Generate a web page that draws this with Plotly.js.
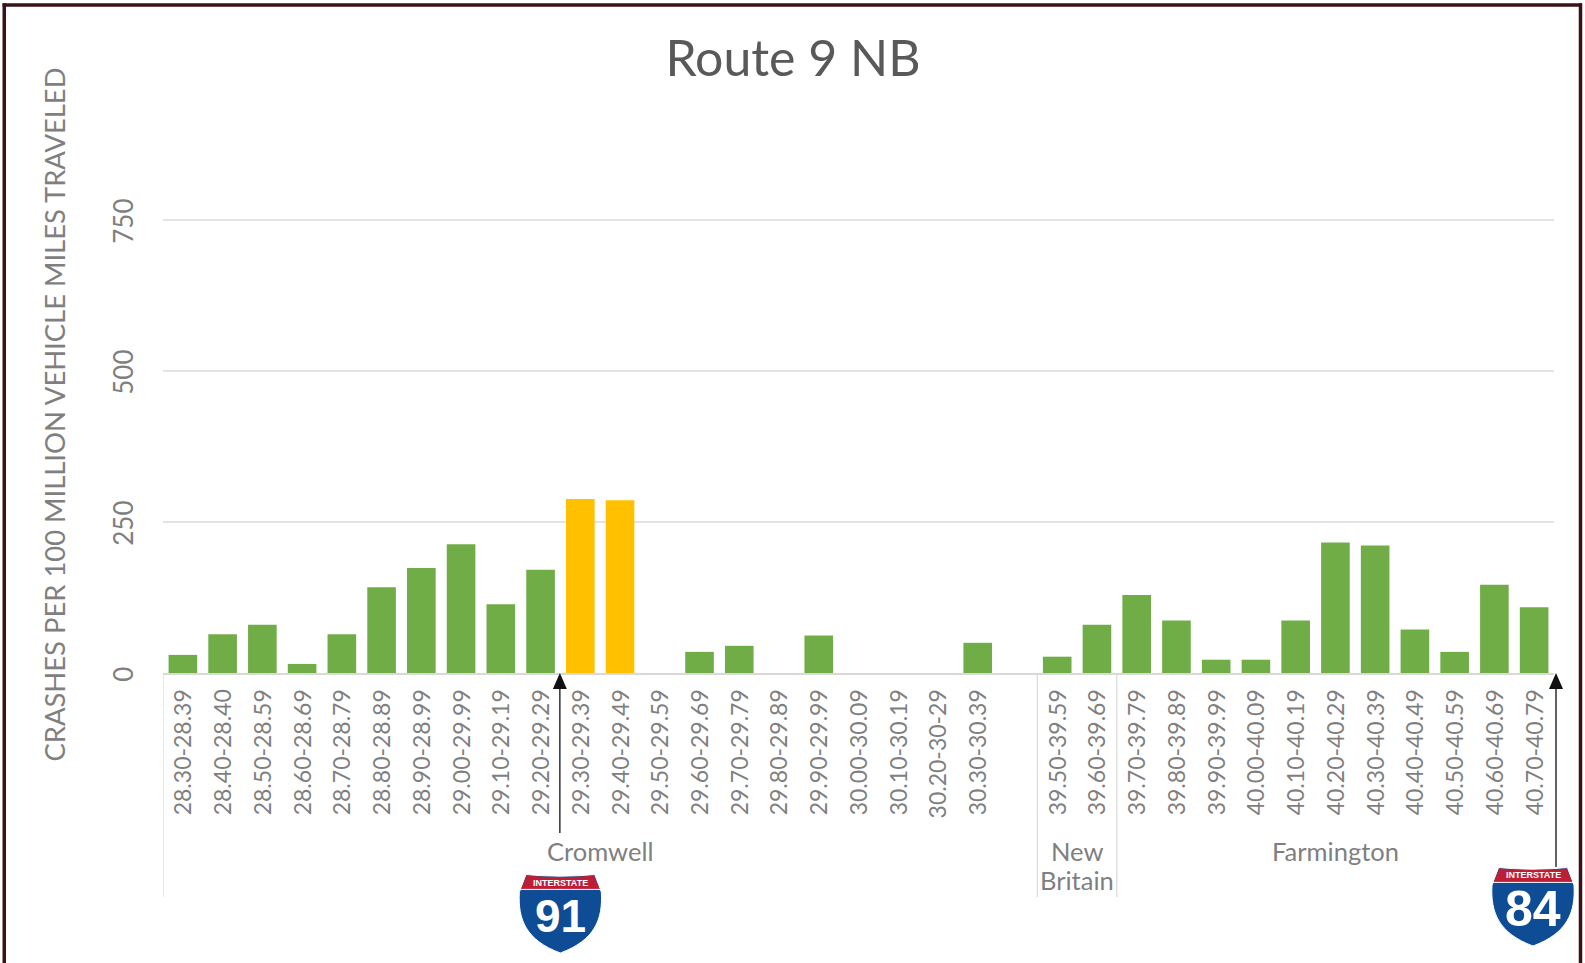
<!DOCTYPE html>
<html>
<head>
<meta charset="utf-8">
<script src="https://cdn.plot.ly/plotly-3.0.1.min.js"></script>
<style>html,body{margin:0;padding:0;background:#fff}#chart{width:1585px;height:963px}</style>
</head>
<body>
<div id="chart"></div>
<script>
const categories = ['28.30-28.39','28.40-28.40','28.50-28.59','28.60-28.69','28.70-28.79','28.80-28.89','28.90-28.99','29.00-29.99','29.10-29.19','29.20-29.29','29.30-29.39','29.40-29.49','29.50-29.59','29.60-29.69','29.70-29.79','29.80-29.89','29.90-29.99','30.00-30.09','30.10-30.19','30.20-30-29','30.30-30.39',' ','39.50-39.59','39.60-39.69','39.70-39.79','39.80-39.89','39.90-39.99','40.00-40.09','40.10-40.19','40.20-40.29','40.30-40.39','40.40-40.49','40.50-40.59','40.60-40.69','40.70-40.79'];
const values = [30,64,80,15,64,142,174,213,114,171,288,286,0,35,45,0,62,0,0,0,50,null,27,80,129,87,22,22,87,216,211,72,35,146,109];
const highlighted = ['29.30-29.39','29.40-29.49'];
const yTicks = [0,250,500,750];
const townLines = [['Cromwell'],['New','Britain'],['Farmington']];
const townSpans = [[0,21],[22,23],[24,34]];

const GREEN='#70ad47', AMBER='#ffc000', GREY='#7f7f7f', TITLE='#595959', FONT='Lato, "Open Sans", sans-serif';
const W=1585,H=963,L=162.5,R=1554,T=156,B=673;
const YMAX=(B-T)/(453/750);
const px=x=>(x-L)/(R-L), py=y=>(B-y)/(B-T);
const P=(x,y)=>px(x).toFixed(5)+','+py(y).toFixed(5);
const pshape=(path,fill,line,lw)=>({type:'path',xref:'paper',yref:'paper',path,fillcolor:fill,line:{color:line||fill,width:lw||0},layer:'above'});

function shield(x0,y0,w,h){
  const X=f=>x0+f*w,Y=f=>y0+f*h;
  const outer='M'+P(X(.08),Y(.02))+' Q'+P(X(.5),Y(.06))+' '+P(X(.92),Y(.02))+' L'+P(X(1),Y(.24))+
    ' C'+P(X(1.02),Y(.58))+' '+P(X(.92),Y(.84))+' '+P(X(.5),Y(1))+' C'+P(X(.08),Y(.84))+' '+P(X(-.02),Y(.58))+' '+P(X(0),Y(.24))+' Z';
  const red='M'+P(X(.09),Y(.03))+' Q'+P(X(.5),Y(.07))+' '+P(X(.91),Y(.03))+' L'+P(X(.98),Y(.2))+' L'+P(X(.02),Y(.2))+' Z';
  const rule={type:'line',xref:'paper',yref:'paper',x0:px(X(.01)),x1:px(X(.99)),y0:py(Y(.205)),y1:py(Y(.205)),line:{color:'#fff',width:1},layer:'above'};
  return [pshape(outer,'#0f4c96','#ffffff',1), pshape(red,'#bd1e35'), rule];
}
function arrow(x,y0,y1){
  return [
    {type:'line',xref:'paper',yref:'paper',x0:px(x),x1:px(x),y0:py(y0),y1:py(y1+12),line:{color:'#222',width:1.4},layer:'above'},
    pshape('M'+P(x,y1)+' L'+P(x-7,y1+16)+' L'+P(x+7,y1+16)+' Z','#111')
  ];
}
const frameLine=(x0,y0,x1,y1)=>({type:'line',xref:'paper',yref:'paper',x0:px(x0),x1:px(x1),y0:py(y0),y1:py(y1),line:{color:'#3a1116',width:3.5},layer:'above'});
const frame=[frameLine(2,5,1582,5),frameLine(3.7,3.3,3.7,H),frameLine(1580.5,3.3,1580.5,H)];
const dividers=[-0.5,21.5,23.5].map(v=>({type:'line',xref:'x',yref:'paper',x0:v,x1:v,y0:py(B),y1:py(897),line:{color:'#d9d9d9',width:1.2}}));

const shieldText=(x,y,text,size,weight)=>({xref:'paper',yref:'paper',x:px(x),y:py(y),text,showarrow:false,font:{family:'"Liberation Sans", sans-serif',size,color:'#fff',weight},xanchor:'center',yanchor:'middle'});
const townAnn=[];
townLines.forEach((lines,i)=>lines.forEach((t,j)=>townAnn.push({xref:'x',yref:'paper',x:(townSpans[i][0]+townSpans[i][1])/2,y:py(851+j*28.5),yanchor:'middle',text:t,showarrow:false,font:{family:FONT,size:25.5,color:GREY}})));

const trace={type:'bar',x:categories,y:values,
  marker:{color:categories.map(c=>highlighted.includes(c)?AMBER:GREEN)},hoverinfo:'x+y'};

const layout={
  width:W,height:H,paper_bgcolor:'#fff',plot_bgcolor:'#fff',showlegend:false,bargap:0.28,
  margin:{l:L,r:W-R,t:T,b:H-B,pad:0},
  title:{text:'Route 9 NB',font:{family:FONT,size:50,color:TITLE},x:793/W,xanchor:'center',y:1-58/H,yanchor:'middle',xref:'container',yref:'container'},
  xaxis:{type:'category',categoryorder:'array',categoryarray:categories,range:[-0.5,34.5],tickangle:-90,ticks:'',
    tickfont:{family:FONT,size:23,color:GREY},ticklabelstandoff:5,ticklabelshift:1,showline:true,linecolor:'#d9d9d9',linewidth:2,showgrid:false,tickmode:'array',tickvals:categories,ticktext:categories,automargin:false},
  yaxis:{range:[0,YMAX],tickmode:'array',tickvals:yTicks,ticktext:yTicks.map(String),tickangle:-90,ticks:'',
    tickfont:{family:FONT,size:26,color:GREY},ticklabelstandoff:24,ticklabelshift:5,gridcolor:'#e4e4e4',gridwidth:1.5,zeroline:false,showline:false,automargin:false,
    title:{text:'CRASHES PER 100 MILLION VEHICLE MILES TRAVELED',font:{family:FONT,size:27.4,color:GREY},standoff:33}},
  shapes:[...dividers,...arrow(559.5,833,673),...arrow(1556,867,673),...shield(519,873,82,80),...shield(1492,866,82,80),...frame],
  annotations:[...townAnn,
    shieldText(560,883,'INTERSTATE',9,700),shieldText(560,916,'91',46,700),
    shieldText(1533,875,'INTERSTATE',9,700),shieldText(1533,909,'84',50,700)]
};
Plotly.newPlot('chart',[trace],layout,{displayModeBar:false,responsive:false});
</script>
</body>
</html>
